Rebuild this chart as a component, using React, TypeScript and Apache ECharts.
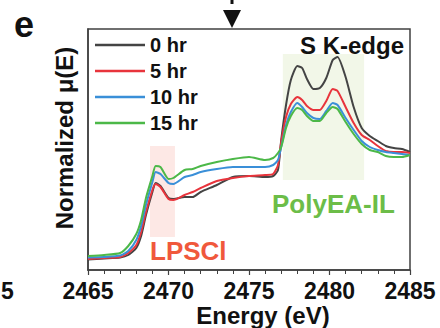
import React, { useEffect, useRef } from "react";
import * as echarts from "echarts";

const energy = [2465, 2466, 2467, 2467.5, 2468, 2468.3, 2468.6, 2469, 2469.2, 2469.5, 2470, 2470.3, 2471, 2471.5, 2472, 2473, 2474, 2475, 2476, 2476.5, 2476.8, 2477, 2477.3, 2477.6, 2478, 2478.3, 2478.6, 2479, 2479.4, 2479.8, 2480.2, 2480.5, 2481, 2481.5, 2482, 2482.5, 2483, 2483.5, 2484, 2484.5, 2485];

const hr0 = [0.105, 0.115, 0.125, 0.15, 0.22, 0.34, 0.55, 0.78, 0.87, 0.84, 0.72, 0.71, 0.73, 0.73, 0.78, 0.85, 0.93, 0.94, 0.93, 0.94, 1.0, 1.3, 1.65, 1.9, 2.04, 2.02, 1.91, 1.81, 1.82, 1.92, 2.1, 2.13, 1.93, 1.63, 1.42, 1.34, 1.29, 1.24, 1.22, 1.21, 1.18];
const hr5 = [0.11, 0.12, 0.13, 0.17, 0.25, 0.38, 0.58, 0.8, 0.86, 0.83, 0.71, 0.7, 0.75, 0.78, 0.82, 0.89, 0.92, 0.94, 0.95, 0.96, 1.05, 1.28, 1.53, 1.66, 1.73, 1.7, 1.64, 1.6, 1.6, 1.69, 1.81, 1.79, 1.63, 1.47, 1.35, 1.3, 1.24, 1.19, 1.18, 1.18, 1.17];
const hr10 = [0.125, 0.13, 0.145, 0.19, 0.3, 0.44, 0.65, 0.88, 0.98, 0.96, 0.87, 0.86, 0.93, 0.95, 0.98, 1.01, 1.03, 1.03, 1.03, 1.05, 1.1, 1.23, 1.45, 1.58, 1.67, 1.63, 1.57, 1.52, 1.51, 1.59, 1.67, 1.65, 1.52, 1.4, 1.29, 1.23, 1.2, 1.18, 1.17, 1.16, 1.15];
const hr15 = [0.14, 0.15, 0.17, 0.24, 0.36, 0.5, 0.72, 0.94, 1.04, 1.03, 0.91, 0.92, 1.0, 1.01, 1.04, 1.08, 1.11, 1.13, 1.1, 1.12, 1.17, 1.23, 1.42, 1.54, 1.62, 1.6, 1.54, 1.49, 1.49, 1.57, 1.63, 1.61, 1.48, 1.36, 1.26, 1.2, 1.18, 1.14, 1.13, 1.13, 1.15];

const seriesNames = ["0 hr", "5 hr", "10 hr", "15 hr"];
const seriesValues = [hr0, hr5, hr10, hr15];
const seriesColors = ["#444444", "#e8343c", "#3a8fd8", "#4cb848"];

const lpsclRegion = [[2468.85, 1.24], [2470.4, 0.33]];
const polyRegion = [[2477.1, 2.16], [2482.15, 0.9]];

const FONT = "Arial, 'Liberation Sans', Helvetica, sans-serif";

export default function App() {
  const ref = useRef<HTMLDivElement>(null);
  useEffect(() => {
    if (!ref.current) return;
    const chart = echarts.init(ref.current, null, { renderer: "svg" });
    const lines = seriesNames.map((name, i) => ({
      name,
      type: "line",
      data: energy.map((e, j) => [e, seriesValues[i][j]]),
      symbol: "none",
      smooth: 0.2,
      lineStyle: { color: seriesColors[i], width: 2 },
      itemStyle: { color: seriesColors[i] },
      z: 3,
    }));
    chart.setOption({
      animation: false,
      grid: {
        left: 88,
        top: 29,
        width: 322,
        height: 241,
        show: true,
        borderColor: "#404040",
        borderWidth: 1.5,
        containLabel: false,
      },
      legend: {
        data: seriesNames.map((n) => ({ name: n, icon: "rect" })),
        orient: "vertical",
        left: 95,
        top: 35,
        itemWidth: 50,
        itemHeight: 2.5,
        itemGap: 6,
        padding: 0,
        textStyle: { fontFamily: FONT, fontWeight: "bold", fontSize: 20, color: "#111", lineHeight: 20 },
      },
      xAxis: {
        type: "value",
        min: 2465,
        max: 2485,
        interval: 5,
        axisLine: { show: true, lineStyle: { color: "#404040", width: 1.5 } },
        axisTick: { show: true, length: 5, lineStyle: { color: "#404040", width: 1.2 } },
        minorTick: { show: true, splitNumber: 5, length: 4, lineStyle: { color: "#404040", width: 1 } },
        splitLine: { show: false },
        axisLabel: {
          fontFamily: FONT,
          fontWeight: "bold",
          fontSize: 23,
          color: "#111",
          margin: 9,
          formatter: (v: number) => String(v),
        },
      },
      yAxis: {
        type: "value",
        min: 0,
        max: 2.41,
        axisLine: { show: true, lineStyle: { color: "#404040", width: 1.5 } },
        axisTick: { show: false },
        axisLabel: { show: false },
        splitLine: { show: false },
      },
      series: [
        {
          name: "regions",
          type: "line",
          data: [],
          z: 1,
          markArea: {
            silent: true,
            data: [
              [
                { coord: lpsclRegion[0], itemStyle: { color: "#fde8e5" } },
                { coord: lpsclRegion[1] },
              ],
              [
                { coord: polyRegion[0], itemStyle: { color: "#f2f7e8" } },
                { coord: polyRegion[1] },
              ],
            ],
          },
        },
        ...lines,
      ],
      graphic: [
        { type: "text", left: 14, top: 6, style: { text: "e", font: `bold 36px ${FONT}`, fill: "#111" } },
        {
          type: "text",
          x: 404,
          y: 45,
          style: { text: "S K-edge", font: `bold 24px ${FONT}`, fill: "#111", align: "right", verticalAlign: "middle" },
        },
        {
          type: "text",
          x: 272,
          y: 204,
          style: { text: "PolyEA-IL", font: `bold 26px ${FONT}`, fill: "#6cbd48", align: "left", verticalAlign: "middle" },
        },
        {
          type: "text",
          x: 150,
          y: 251,
          style: { text: "LPSCl", font: `bold 26px ${FONT}`, fill: "#f0583c", align: "left", verticalAlign: "middle" },
        },
        {
          type: "text",
          x: 64,
          y: 138,
          rotation: Math.PI / 2,
          style: { text: "Normalized μ(E)", font: `bold 24px ${FONT}`, fill: "#111", align: "center", verticalAlign: "middle" },
        },
        {
          type: "text",
          x: 263,
          y: 315.5,
          style: { text: "Energy (eV)", font: `bold 24px ${FONT}`, fill: "#111", align: "center", verticalAlign: "middle" },
        },
        {
          type: "text",
          x: 1,
          y: 291,
          style: { text: "5", font: `bold 23px ${FONT}`, fill: "#111", align: "left", verticalAlign: "middle" },
        },
        { type: "rect", shape: { x: 230.5, y: 0, width: 3, height: 4 }, style: { fill: "#111" } },
        { type: "polygon", shape: { points: [[223, 10], [241, 10], [232, 28]] }, style: { fill: "#111" } },
      ],
    });
    return () => chart.dispose();
  }, []);
  return <div ref={ref} style={{ width: 440, height: 328, position: "absolute", left: 0, top: 0 }} />;
}
